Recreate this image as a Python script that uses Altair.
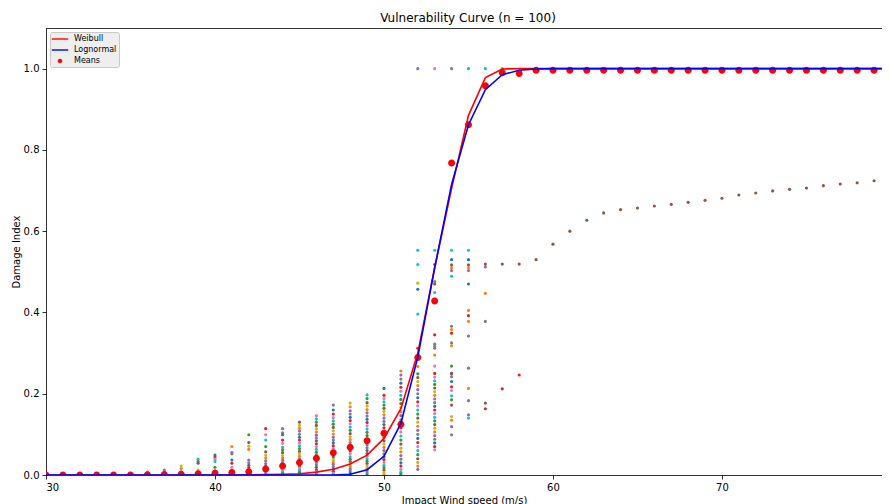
import altair as alt
import pandas as pd

# ---- data ----
speeds = list(range(30, 81))

means = [0.0, 0.0, 0.0, 0.0, 0.0, 0.0, 0.0005, 0.001, 0.002,
         0.003, 0.004, 0.006, 0.008, 0.015, 0.022, 0.031, 0.041, 0.055, 0.068, 0.084,
         0.103, 0.125, 0.289, 0.428, 0.768, 0.862, 0.958, 0.990, 0.988, 0.996,
         0.996, 0.996, 0.996, 0.996, 0.996, 0.996, 0.996, 0.996, 0.996, 0.996,
         0.996, 0.996, 0.996, 0.996, 0.996, 0.996, 0.996, 0.996, 0.996, 0.996, 0.996]

weibull = [0.0, 0.0, 0.0, 0.0, 0.0, 0.0, 0.0, 0.0, 0.0, 0.0,
           0.0, 0.0, 0.0, 0.001, 0.002, 0.003, 0.007, 0.014, 0.027, 0.049,
           0.090, 0.163, 0.300, 0.510, 0.705, 0.885, 0.978, 0.999, 1.0, 1.0,
           1.0, 1.0, 1.0, 1.0, 1.0, 1.0, 1.0, 1.0, 1.0, 1.0,
           1.0, 1.0, 1.0, 1.0, 1.0, 1.0, 1.0, 1.0, 1.0, 1.0, 1.0]

lognormal = [0.0, 0.0, 0.0, 0.0, 0.0, 0.0, 0.0, 0.0, 0.0, 0.0,
             0.0, 0.0, 0.0, 0.0, 0.0, 0.0, 0.0, 0.0, 0.002, 0.013,
             0.046, 0.127, 0.290, 0.510, 0.715, 0.862, 0.948, 0.985, 0.996, 0.999,
             1.0, 1.0, 1.0, 1.0, 1.0, 1.0, 1.0, 1.0, 1.0, 1.0,
             1.0, 1.0, 1.0, 1.0, 1.0, 1.0, 1.0, 1.0, 1.0, 1.0, 1.0]

# dense lower columns of sample damage values (colours cycle through tab10)
col36 = [0.007, 0.003, 0.0]
col37 = [0.012, 0.006, 0.0]
col38 = [0.022, 0.016, 0.008, 0.0]
col39 = [0.039, 0.033, 0.029, 0.012, 0.006, 0.0]
col40 = [0.049, 0.044, 0.039, 0.033, 0.019, 0.010, 0.006, 0.0]
col41 = [0.070, 0.055, 0.052, 0.037, 0.029, 0.019, 0.012, 0.006, 0.0]
col42 = [0.099, 0.080, 0.071, 0.063, 0.037, 0.030, 0.024, 0.018, 0.012, 0.006, 0.0]
col43 = [0.114, 0.099, 0.086, 0.070, 0.057, 0.049, 0.042, 0.035, 0.028, 0.022, 0.015, 0.009, 0.004, 0.0]
col44 = [0.114, 0.104, 0.099, 0.086, 0.078, 0.068, 0.062, 0.055, 0.048, 0.042, 0.036, 0.030,
         0.024, 0.018, 0.012, 0.007, 0.003, 0.0]
col45 = [0.130, 0.122, 0.115, 0.108, 0.100, 0.093, 0.086, 0.079, 0.072, 0.065, 0.058, 0.052,
         0.046, 0.040, 0.034, 0.028, 0.022, 0.017, 0.012, 0.007, 0.003, 0.0]
col46 = [0.146, 0.138, 0.130, 0.122, 0.114, 0.106, 0.098, 0.091, 0.084, 0.077, 0.070, 0.063,
         0.056, 0.049, 0.043, 0.037, 0.031, 0.025, 0.019, 0.013, 0.008, 0.003, 0.0]
col47 = [0.172, 0.160, 0.150, 0.141, 0.133, 0.125, 0.117, 0.109, 0.101, 0.093, 0.086, 0.079,
         0.072, 0.065, 0.058, 0.051, 0.044, 0.038, 0.032, 0.026, 0.020, 0.014, 0.009, 0.004, 0.0]
col48 = [0.177, 0.168, 0.158, 0.150, 0.142, 0.134, 0.126, 0.118, 0.110, 0.102, 0.094, 0.087,
         0.080, 0.073, 0.066, 0.059, 0.052, 0.045, 0.039, 0.033, 0.027, 0.021, 0.015, 0.010, 0.005, 0.0]
col49 = [0.197, 0.188, 0.178, 0.170, 0.161, 0.153, 0.145, 0.137, 0.129, 0.121, 0.113, 0.105,
         0.097, 0.089, 0.081, 0.074, 0.067, 0.060, 0.053, 0.046, 0.040, 0.034, 0.028, 0.022,
         0.016, 0.010, 0.005, 0.0]
col50 = [0.213, 0.196, 0.188, 0.180, 0.172, 0.164, 0.156, 0.148, 0.140, 0.132, 0.124, 0.116,
         0.108, 0.100, 0.092, 0.084, 0.076, 0.068, 0.060, 0.052, 0.045, 0.038, 0.031, 0.024,
         0.018, 0.012, 0.006, 0.0]
col51 = [0.256, 0.246, 0.236, 0.226, 0.216, 0.206, 0.196, 0.186, 0.176, 0.166, 0.156, 0.146,
         0.136, 0.126, 0.116, 0.106, 0.096, 0.086, 0.076, 0.066, 0.057, 0.048, 0.039, 0.030,
         0.022, 0.014, 0.007, 0.002]
col52 = [0.249, 0.240, 0.230, 0.220, 0.210, 0.200, 0.190, 0.180, 0.170, 0.160, 0.150, 0.140,
         0.130, 0.120, 0.110, 0.100, 0.090, 0.080, 0.070, 0.060, 0.050, 0.040, 0.031, 0.022, 0.014]
col53 = [0.250, 0.241, 0.232, 0.223, 0.214, 0.205, 0.196, 0.187, 0.178, 0.169, 0.160, 0.151,
         0.142, 0.133, 0.124, 0.115, 0.106, 0.097, 0.088, 0.079, 0.070, 0.062]
col54 = [0.250, 0.242, 0.230, 0.217, 0.208, 0.195, 0.185, 0.172, 0.144, 0.135, 0.119, 0.099]
dense_cols = {36: col36, 37: col37, 38: col38, 39: col39, 40: col40, 41: col41, 42: col42,
              43: col43, 44: col44, 45: col45, 46: col46, 47: col47, 48: col48, 49: col49,
              50: col50, 51: col51, 52: col52, 53: col53, 54: col54}

# isolated sample points with their tab10 colour index
upper_x = [52, 52, 52, 52, 52, 52, 52, 52,
           53, 53, 53, 53, 53, 53, 53, 53, 53, 53, 53,
           54, 54, 54, 54, 54, 54, 54, 54, 54, 54, 54, 54, 54,
           55, 55, 55, 55, 55, 55, 55, 55, 55, 55, 55, 55, 55, 55, 55,
           56, 56, 56, 56, 56, 56, 57, 57, 58]
upper_y = [1.0, 0.553, 0.518, 0.472, 0.457, 0.396, 0.312, 0.267,
           1.0, 0.553, 0.476, 0.470, 0.449, 0.345, 0.322, 0.316, 0.312, 0.295, 0.268,
           1.0, 0.553, 0.530, 0.510, 0.503, 0.489, 0.366, 0.358, 0.349, 0.325, 0.318, 0.268, 0.250,
           1.0, 0.553, 0.530, 0.510, 0.503, 0.470, 0.405, 0.392, 0.378, 0.342, 0.263, 0.213, 0.183, 0.148, 0.140,
           1.0, 0.512, 0.447, 0.378, 0.177, 0.163, 1.0, 0.212, 0.246]
upper_c = [4, 9, 9, 8, 0, 9, 3, 1,
           6, 9, 7, 5, 9, 3, 7, 7, 7, 1, 6,
           7, 9, 0, 1, 4, 9, 7, 1, 3, 7, 1, 2, 5,
           9, 9, 0, 1, 4, 0, 1, 3, 1, 7, 4, 1, 4, 4, 9,
           9, 4, 1, 7, 5, 3, 9, 3, 3]

# the one slowly rising sample (brown)
brown_x = list(range(53, 81))
brown_y = [0.518, 0.517, 0.517, 0.519, 0.519, 0.519, 0.530, 0.568, 0.600, 0.627,
           0.645, 0.653, 0.657, 0.662, 0.666, 0.671, 0.676, 0.681, 0.689, 0.694,
           0.699, 0.703, 0.706, 0.712, 0.716, 0.719, 0.724, 0.728]

tab10 = ["#1f77b4", "#ff7f0e", "#2ca02c", "#d62728", "#9467bd",
         "#8c564b", "#e377c2", "#7f7f7f", "#bcbd22", "#17becf"]

# ---- tables ----
rows = []
for sp, vals in dense_cols.items():
    for i, v in enumerate(vals):
        rows.append({"speed": sp, "damage": v, "color": tab10[(i * 3 + sp) % 10]})
for sp, v, c in zip(upper_x, upper_y, upper_c):
    rows.append({"speed": sp, "damage": v, "color": tab10[c]})
for sp, v in zip(brown_x, brown_y):
    rows.append({"speed": sp, "damage": v, "color": tab10[5]})
samples = pd.DataFrame(rows)

curves = pd.DataFrame({"speed": speeds, "Weibull": weibull, "Lognormal": lognormal})
mean_df = pd.DataFrame({"speed": speeds, "damage": means, "series": "Means"})
frame_df = pd.DataFrame({"spine": ["top"]})

font = "DejaVu Sans"
# the reference figure is cropped at its right edge, just before x = 80
xscale = alt.Scale(domain=[30, 79.47], nice=False, zero=False)
yscale = alt.Scale(domain=[0, 1.1], nice=False)
xaxis = alt.Axis(values=[30, 40, 50, 60, 70], format="d", title="Impact Wind speed (m/s)")
yaxis = alt.Axis(values=[0, 0.2, 0.4, 0.6, 0.8, 1.0], format=".1f", title="Damage Index")

base_x = alt.X("speed:Q", scale=xscale, axis=xaxis)
base_y = alt.Y("damage:Q", scale=yscale, axis=yaxis)

pts = alt.Chart(samples).mark_circle(size=10, opacity=1, clip=True).encode(
    x=base_x, y=base_y, color=alt.Color("color:N", scale=None)
)

bar_path = "M-1.65,-0.14H1.65V0.14H-1.65Z"
dot_path = "M-0.45,0A0.45,0.45 0 1,0 0.45,0A0.45,0.45 0 1,0 -0.45,0Z"
domain = ["Weibull", "Lognormal", "Means"]
legend = alt.Legend(title=None, orient="top-left", offset=4, symbolSize=100,
                    labelFont=font, labelFontSize=8, labelColor="black",
                    fillColor="#eeeeee", strokeColor="#c8c8c8", padding=2,
                    cornerRadius=2, rowPadding=2, symbolStrokeWidth=0,
                    symbolOffset=3, labelOffset=9)
mean_layer = alt.Chart(mean_df).mark_point(filled=True, size=242, opacity=1, clip=True).encode(
    x=base_x, y=base_y,
    color=alt.Color("series:N", scale=alt.Scale(domain=domain, range=["#ff0000", "#0000ff", "#ff0000"]), legend=legend),
    shape=alt.Shape("series:N", scale=alt.Scale(domain=domain, range=[bar_path, bar_path, dot_path]), legend=legend),
)

wb = alt.Chart(curves).mark_line(color="#ff0000", strokeWidth=1.6, clip=True).encode(
    x=base_x, y=alt.Y("Weibull:Q", scale=yscale, axis=yaxis)
)
ln = alt.Chart(curves).mark_line(color="#0000ff", strokeWidth=1.6, clip=True).encode(
    x=base_x, y=alt.Y("Lognormal:Q", scale=yscale, axis=yaxis)
)
# top spine (the right spine lies outside the cropped reference)
top_spine = alt.Chart(frame_df).mark_rule(color="black", strokeWidth=0.8).encode(
    y=alt.value(0.5)
)

chart = alt.layer(pts, mean_layer, wb, ln, top_spine).properties(
    width=836, height=447,
    autosize=alt.AutoSizeParams(type="none"),
    padding={"left": 38, "top": 20, "right": 0, "bottom": 40},
    title=alt.TitleParams("Vulnerability Curve (n = 100)", font=font, fontSize=12,
                          fontWeight="normal", color="black", offset=3, anchor="middle",
                          frame="group", dx=4),
).configure_axis(
    grid=False, domainColor="black", domainWidth=0.8, tickColor="black", tickWidth=0.8,
    tickSize=4, labelFont=font, labelFontSize=10, labelColor="black", labelPadding=3,
    titleFont=font, titleFontSize=10, titleColor="black", titleFontWeight="normal",
).configure_axisY(titlePadding=2).configure_axisX(titlePadding=3).configure_view(
    strokeWidth=0
)

chart.save("out.html", embed_options={"renderer": "svg", "actions": False})
